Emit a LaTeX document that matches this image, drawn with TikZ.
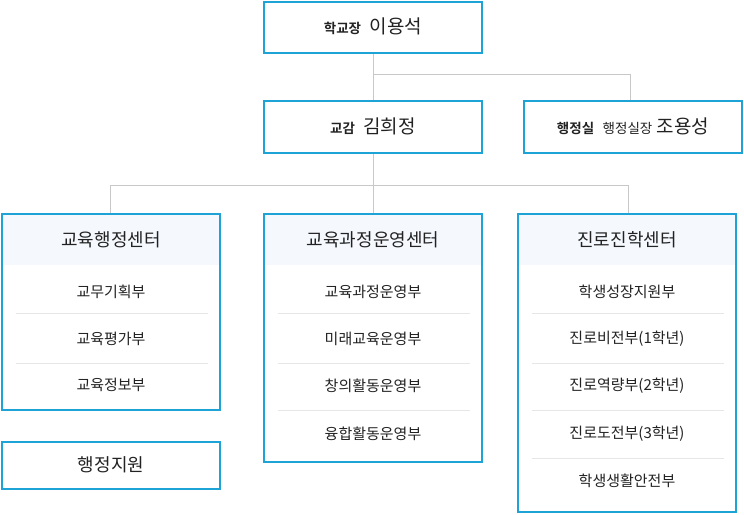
\documentclass[tikz,border=0pt]{standalone}
\usepackage{fontspec}
\setmainfont{Noto Sans CJK KR}
\newfontfamily\kb{Noto Sans CJK KR Bold}
\begin{document}
\definecolor{bd}{HTML}{1EA3D6}
\definecolor{hb}{HTML}{F5F9FE}
\definecolor{ln}{HTML}{C8C8C8}
\definecolor{sp}{HTML}{E6E6E6}
\definecolor{tx}{HTML}{222222}
\begin{tikzpicture}[x=1pt,y=-1pt,
  box/.style={draw=bd,line width=2pt,fill=white},
  con/.style={draw=ln,line width=0.9pt},
  t/.style={text=tx,font=\fontsize{15}{17}\selectfont,inner sep=0},
  h/.style={text=tx,font=\fontsize{18}{20}\selectfont,inner sep=0},
  n/.style={text=tx,font=\fontsize{19}{21}\selectfont,inner sep=0}]
\useasboundingbox (0,0) rectangle (744,514);
\draw[box] (264,2) rectangle (482,53);
\node[n] (p) at (373,26) {{\kb\fontsize{13.5}{15}\selectfont 학교장}\ \ 이용석};
\draw[box] (264,101) rectangle (482,153);
\node[n] (v) at (373,126) {{\kb\fontsize{13.5}{15}\selectfont 교감}\ \ 김희정};
\draw[box] (524,101) rectangle (742,153);
\node[n] (a) at (633,126) {{\kb\fontsize{13.5}{15}\selectfont 행정실}\ \ {\fontsize{13.5}{15}\selectfont 행정실장}\ 조용성};
\coordinate (j1) at (373,74); \coordinate (j2) at (630,74); \coordinate (j2b) at (630,100);
\draw[con] (373,54) -- (j1) -- (j2) -- (j2b);
\draw[con] (373,74) -- (373,100);
\draw[con] (373,154) -- (373,213);
\draw[con] (110,213) -- (110,185) -- (628,185) -- (628,213);
\foreach \x/\b in {2/410, 264/462, 518/512}{
  \draw[box] (\x,214) rectangle ++(218,\b-214);
  \fill[hb] (\x+1,215) rectangle (\x+217,265);
}
\draw[box] (2,442) rectangle (220,489);
\node[h] (l) at (111,240) {교육행정센터};
\node[h] (m) at (373,240) {교육과정운영센터};
\node[h] (r) at (627,240) {진로진학센터};
\node[h] (s) at (111,465) {행정지원};
\node[t] at (111,292) {교무기획부};
\node[t] at (111,339) {교육평가부};
\node[t] at (111,385) {교육정보부};
\node[t] at (373,292) {교육과정운영부};
\node[t] at (373,339) {미래교육운영부};
\node[t] at (373,386) {창의활동운영부};
\node[t] at (373,434) {융합활동운영부};
\node[t] at (627,292) {학생성장지원부};
\node[t] at (627,339) {진로비전부(1학년)};
\node[t] at (627,386) {진로역량부(2학년)};
\node[t] at (627,434) {진로도전부(3학년)};
\node[t] at (627,481) {학생생활안전부};
\foreach \y in {313,363} \draw[sp,line width=0.9pt] (16,\y) -- (208,\y);
\foreach \y in {313,363,410} \draw[sp,line width=0.9pt] (278,\y) -- (470,\y);
\foreach \y in {313,363,410,458} \draw[sp,line width=0.9pt] (532,\y) -- (724,\y);
\end{tikzpicture}
\end{document}
